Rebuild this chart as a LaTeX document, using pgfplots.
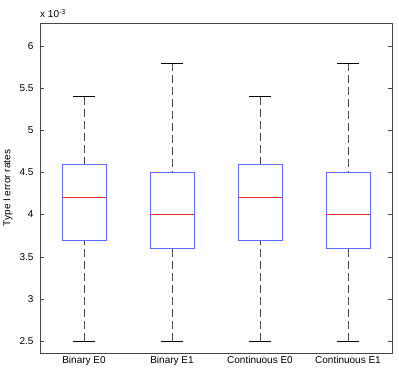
\documentclass[border=0pt]{standalone}
\usepackage{pgfplots}
\pgfplotsset{compat=1.18}
\usepgfplotslibrary{statistics}
\usepackage{fontspec}
\setmainfont{Liberation Sans}
\definecolor{mblue}{RGB}{90,110,255}
\definecolor{mred}{RGB}{240,40,40}
\definecolor{mgray}{RGB}{70,70,70}
\pgfplotsset{
  boxplot/draw/lower whisker/.code={%
    \draw[dash pattern=on 8pt off 4pt, mgray]
      (boxplot box cs:\pgfplotsboxplotvalue{lower whisker},0.5)
      --
      (boxplot box cs:\pgfplotsboxplotvalue{lower quartile},0.5);
    \draw[black]
      (boxplot whisker cs:\pgfplotsboxplotvalue{lower whisker},0)
      --
      (boxplot whisker cs:\pgfplotsboxplotvalue{lower whisker},1);
  },
  boxplot/draw/upper whisker/.code={%
    \draw[dash pattern=on 8pt off 4pt, mgray]
      (boxplot box cs:\pgfplotsboxplotvalue{upper whisker},0.5)
      --
      (boxplot box cs:\pgfplotsboxplotvalue{upper quartile},0.5);
    \draw[black]
      (boxplot whisker cs:\pgfplotsboxplotvalue{upper whisker},0)
      --
      (boxplot whisker cs:\pgfplotsboxplotvalue{upper whisker},1);
  },
  boxplot/draw/median/.code={%
    \draw[mred]
      (boxplot box cs:\pgfplotsboxplotvalue{median},0)
      --
      (boxplot box cs:\pgfplotsboxplotvalue{median},1);
  },
  boxplot/draw/box/.code={%
    \draw[mblue, semithick]
      (boxplot box cs:\pgfplotsboxplotvalue{lower quartile},0)
      rectangle
      (boxplot box cs:\pgfplotsboxplotvalue{upper quartile},1);
  },
}
\begin{document}
\begin{tikzpicture}
\begin{axis}[
  scale only axis,
  width=352pt, height=330pt,
  xmin=0.5, xmax=4.5,
  ymin=2.357, ymax=6.273,
  xtick={1,2,3,4},
  xticklabels={Binary E0, Binary E1, Continuous E0, Continuous E1},
  x tick style={draw=none},
  ytick={2.5,3,3.5,4,4.5,5,5.5,6},
  yticklabels={2.5,3,3.5,4,4.5,5,5.5,6},
  ytick pos=both,
  tick align=inside,
  major tick length=4pt,
  axis line style={mgray},
  y tick style={mgray},
  tick label style={font=\fontsize{10}{12}\selectfont},
  yticklabel style={xshift=-3pt},
  ylabel={Type I error rates},
  ylabel style={font=\fontsize{10}{12}\selectfont, at={(axis description cs:-0.0909,0.5)}, anchor=center},
  /pgf/number format/assume math mode=true,
  boxplot/draw direction=y,
  boxplot/box extend=0.5,
  boxplot/whisker extend=0.25,
  clip=false,
]
\addplot[boxplot prepared={draw position=1, lower whisker=2.5, lower quartile=3.7, median=4.2, upper quartile=4.6, upper whisker=5.4}] coordinates {};
\addplot[boxplot prepared={draw position=2, lower whisker=2.5, lower quartile=3.6, median=4.0, upper quartile=4.5, upper whisker=5.8}] coordinates {};
\addplot[boxplot prepared={draw position=3, lower whisker=2.5, lower quartile=3.7, median=4.2, upper quartile=4.6, upper whisker=5.4}] coordinates {};
\addplot[boxplot prepared={draw position=4, lower whisker=2.5, lower quartile=3.6, median=4.0, upper quartile=4.5, upper whisker=5.8}] coordinates {};
\node[anchor=south west, inner sep=0pt, yshift=5pt, font=\fontsize{10}{12}\selectfont] at (rel axis cs:0,1) {x 10\textsuperscript{-3}};
\path (rel axis cs:0,0) ++(-40pt,-22pt) coordinate (bbA);
\path (rel axis cs:1,1) ++(7pt,23pt) coordinate (bbB);
\end{axis}
\path (bbA) (bbB);
\end{tikzpicture}
\end{document}
